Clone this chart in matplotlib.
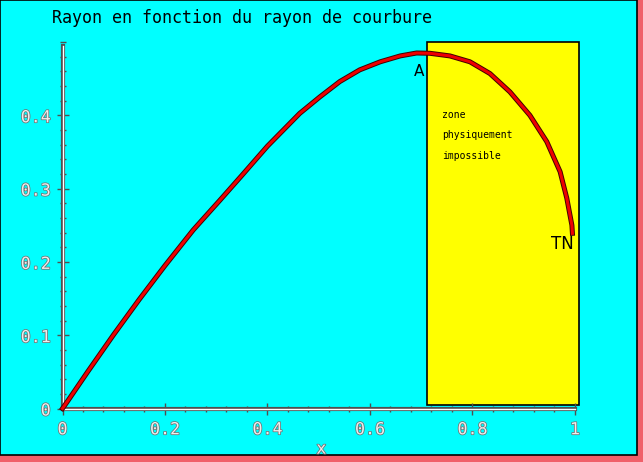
import matplotlib
matplotlib.use("Agg")
import matplotlib.pyplot as plt
import matplotlib.patheffects as pe
from matplotlib.patches import Rectangle
from matplotlib.ticker import MultipleLocator

# courbe
x_vals = [0.0, 0.008, 0.05, 0.10, 0.15, 0.20, 0.255, 0.307, 0.35, 0.40, 0.463, 0.502,
          0.541, 0.580, 0.620, 0.659, 0.691, 0.717, 0.756, 0.795, 0.834, 0.873, 0.912,
          0.945, 0.971, 0.984, 0.994, 0.995]
y_vals = [0.0, 0.008, 0.051, 0.101, 0.149, 0.195, 0.2435, 0.284, 0.318, 0.358, 0.4027, 0.425,
          0.446, 0.462, 0.473, 0.481, 0.485, 0.4846, 0.481, 0.473, 0.457, 0.432, 0.400,
          0.364, 0.323, 0.287, 0.250, 0.239]

zone_x = [0.712, 1.007]
zone_y = [0.005, 0.5]
zone_lines = ["zone", "physiquement", "impossible"]

title = "Rayon en fonction du rayon de courbure"
x_ticks = [0, 0.2, 0.4, 0.6, 0.8, 1]
x_ticklabels = ["0", "0.2", "0.4", "0.6", "0.8", "1"]
y_ticks = [0, 0.1, 0.2, 0.3, 0.4]
y_ticklabels = ["0", "0.1", "0.2", "0.3", "0.4"]

W, H = 643, 462
fig = plt.figure(figsize=(W / 100, H / 100), dpi=100)
fig.patch.set_facecolor("#f0606a")

# fond cyan de la fenetre
bg = Rectangle((0, 7 / H), 637 / W, 1 - 7 / H, transform=fig.transFigure,
               facecolor="#00ffff", edgecolor="black", linewidth=1.2, zorder=-10)
fig.patches.append(bg)

ax = fig.add_axes([62.5 / W, 53.5 / H, 517.6 / W, 366.5 / H])
ax.set_facecolor("none")
ax.set_xlim(0, 1.01)
ax.set_ylim(0, 0.5)

outline = [pe.Stroke(linewidth=3, foreground="#505050"), pe.Normal()]
for s in ["top", "right"]:
    ax.spines[s].set_visible(False)
ax.spines["bottom"].set_bounds(0, 1)
ax.spines["left"].set_bounds(0, 0.4945)
for s in ["bottom", "left"]:
    ax.spines[s].set_color("white")
    ax.spines[s].set_linewidth(1)
    ax.spines[s].set_path_effects(outline)

ax.set_xticks(x_ticks)
ax.set_xticklabels(x_ticklabels)
ax.set_yticks(y_ticks)
ax.set_yticklabels(y_ticklabels)
ax.xaxis.set_minor_locator(MultipleLocator(0.04))
ax.yaxis.set_minor_locator(MultipleLocator(0.02))
ax.tick_params(which="major", direction="inout", length=9, width=1, color="#505050",
               pad=4, labelsize=12, labelcolor="#eeeeee")
ax.tick_params(which="minor", direction="inout", length=5, width=1, color="#505050")
lab_fx = [pe.withStroke(linewidth=1.1, foreground="#707070")]
for t in ax.get_xticklabels() + ax.get_yticklabels():
    t.set_family("DejaVu Sans Mono")
    t.set_path_effects(lab_fx)

ax.set_xlabel("x", fontsize=12, family="DejaVu Sans Mono", color="#eeeeee",
              path_effects=lab_fx, labelpad=1)

# zone physiquement impossible
ax.add_patch(Rectangle((zone_x[0], zone_y[0]), zone_x[1] - zone_x[0], zone_y[1] - zone_y[0],
                       facecolor="#ffff00", edgecolor="black", linewidth=1.2,
                       zorder=1, clip_on=False))
for i, txt in enumerate(zone_lines):
    ax.text(0.74, 0.4 - i * 0.0275, txt, fontsize=7, family="DejaVu Sans Mono",
            va="center", ha="left", zorder=3)

ax.plot(x_vals, y_vals, color="#ee0000", linewidth=2.2, zorder=4, clip_on=False,
        solid_joinstyle="round",
        path_effects=[pe.Stroke(linewidth=3.6, foreground="#400000"), pe.Normal()])

ax.text(0.696, 0.46, "A", fontsize=11, ha="center", va="center", zorder=5)
ax.text(0.976, 0.224, "TN", fontsize=12, ha="center", va="center", zorder=5)

fig.text(52 / W, 1 - 18 / H, title, fontsize=12, family="DejaVu Sans Mono",
         ha="left", va="center")

fig.savefig("out.png", dpi=100, facecolor=fig.get_facecolor())
